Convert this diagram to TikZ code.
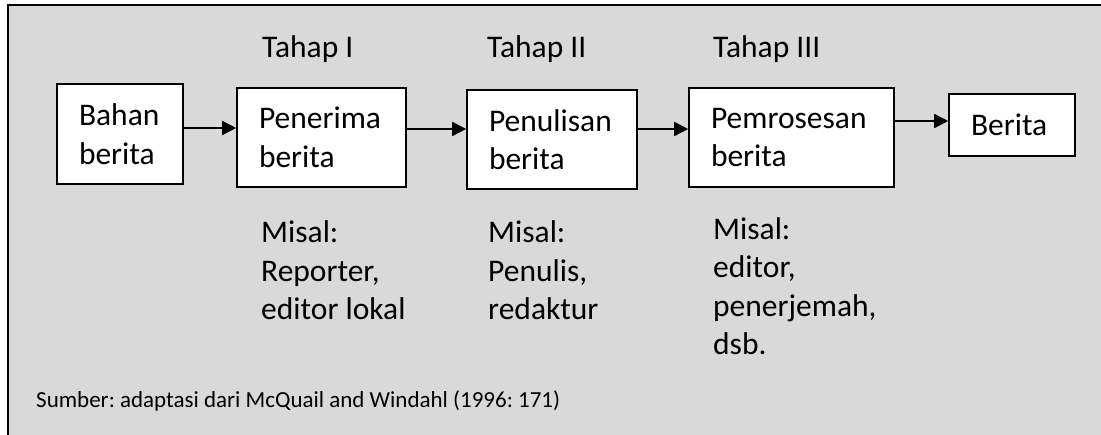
\documentclass[tikz,border=0pt]{standalone}
\usepackage{fontspec}
\setmainfont{Carlito}
\frenchspacing
\usetikzlibrary{arrows.meta}
\begin{document}
\begin{tikzpicture}[x=1pt,y=-1pt,
  every node/.style={font=\fontsize{31.5}{38.5}\selectfont},
  stagebox/.style={draw=black,line width=1.6pt,fill=white,inner xsep=22pt,
    inner ysep=0pt,align=left,anchor=center},
  label/.style={anchor=base west,inner sep=0pt,align=left},
  flow/.style={line width=1.6pt,-{Triangle[length=14pt,width=14pt]}}]
  \useasboundingbox (0,0) rectangle (1101,435);
  \clip (0,0) rectangle (1101,435);
  % panel
  \draw[fill={rgb,255:red,217;green,217;blue,217},line width=2pt] (8,5) rectangle (1120,460);

  % stage boxes
  \node[stagebox,text width=82pt,minimum height=100pt] (bahan) at (120,134) {Bahan\\berita};
  \node[stagebox,text width=125pt,minimum height=99pt] (terima) at (321.5,137.5) {Penerima\\berita};
  \node[stagebox,text width=126pt,minimum height=99pt] (tulis) at (552,139.5) {Penulisan\\berita};
  \node[stagebox,text width=161pt,minimum height=99pt] (proses) at (791.5,137.5) {Pemrosesan\\berita};
  \node[stagebox,text width=82pt,minimum height=62pt] (hasil) at (1012,125) {Berita};

  % connectors
  \draw[flow] (bahan.east |- 0,128) -- (terima.west |- 0,128);
  \draw[flow] (terima.east |- 0,129) -- (tulis.west |- 0,129);
  \draw[flow] (tulis.east |- 0,129) -- (proses.west |- 0,129);
  \draw[flow] (proses.east |- 0,121) -- (hasil.west |- 0,121);

  % stage titles
  \node[label] (t1) at (262,58) {Tahap I};
  \node[label] (t2) at (487,58) {Tahap II};
  \node[label] (t3) at (713,58) {Tahap III};

  % examples (anchored on the baseline of the last line)
  \node[label] (m1) at (261,320) {Misal:\\Reporter,\\editor lokal};
  \node[label] (m2) at (488,320) {Misal:\\Penulis,\\redaktur};
  \node[label] (m3) at (713,355) {Misal:\\editor,\\penerjemah,\\dsb.};

  % source note
  \node[label,font=\fontsize{23}{27}\selectfont] (src) at (36,408)
    {Sumber: adaptasi dari McQuail and Windahl (1996: 171)};
\end{tikzpicture}
\end{document}
